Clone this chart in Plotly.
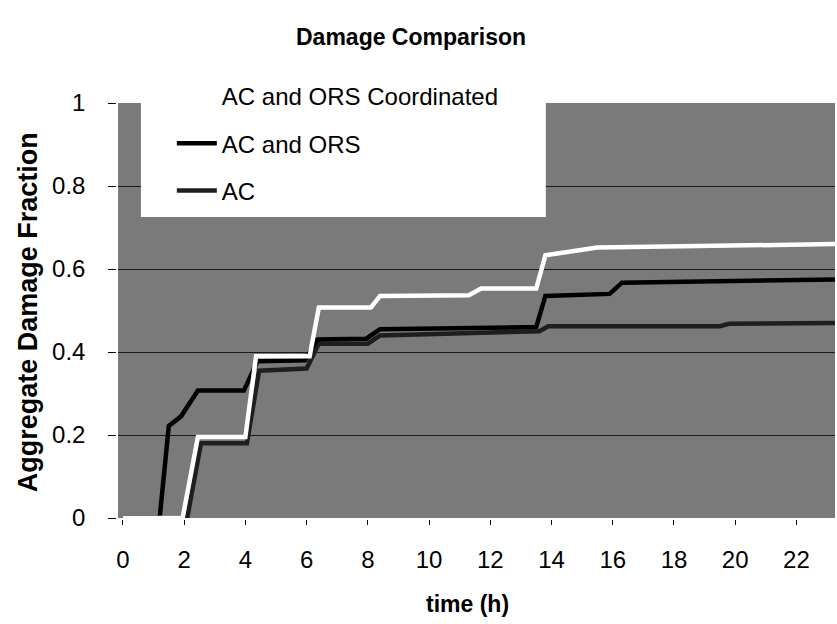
import plotly.graph_objects as go

# ---- data ----
t_coord = [0, 1.95, 2.45, 4.0, 4.35, 6.1, 6.4, 8.1, 8.4, 11.3, 11.7, 13.5, 13.8, 14.5, 15.5, 23.3]
v_coord = [0, 0, 0.195, 0.195, 0.39, 0.39, 0.507, 0.507, 0.535, 0.537, 0.553, 0.553, 0.633, 0.64, 0.652, 0.66]

t_acors = [0, 1.2, 1.5, 1.9, 2.45, 3.95, 4.4, 5.95, 6.35, 7.95, 8.4, 13.5, 13.8, 15.9, 16.3, 23.3]
v_acors = [0, 0, 0.222, 0.245, 0.307, 0.307, 0.378, 0.38, 0.43, 0.432, 0.455, 0.46, 0.535, 0.54, 0.567, 0.575]

t_ac = [0, 2.1, 2.55, 4.05, 4.45, 6.0, 6.4, 8.0, 8.4, 13.6, 13.9, 19.5, 19.8, 23.3]
v_ac = [0, 0, 0.18, 0.18, 0.355, 0.36, 0.42, 0.42, 0.44, 0.45, 0.462, 0.462, 0.468, 0.47]

series_names = ["AC and ORS Coordinated", "AC and ORS", "AC"]
x_ticks = [0, 2, 4, 6, 8, 10, 12, 14, 16, 18, 20, 22]
y_ticks = [0, 0.2, 0.4, 0.6, 0.8, 1]
y_tick_text = ["0", "0.2", "0.4", "0.6", "0.8", "1"]

FONT = "Liberation Sans, Arial, sans-serif"
W, H = 837, 624
L, R, T, B = 118, 0, 103, 106
PW, PH = W - L - R, H - T - B

fig = go.Figure()
fig.add_trace(go.Scatter(x=t_coord, y=v_coord, mode="lines", name=series_names[0],
                         line=dict(color="#ffffff", width=4.5), legendgroup="g1", zorder=3,
                         cliponaxis=False))
fig.add_trace(go.Scatter(x=t_acors, y=v_acors, mode="lines", name=series_names[1],
                         line=dict(color="#000000", width=4.5), legendgroup="g2", zorder=2,
                         cliponaxis=False))
fig.add_trace(go.Scatter(x=t_ac, y=v_ac, mode="lines", name=series_names[2],
                         line=dict(color="#1e1e1e", width=4.5), legendgroup="g3", zorder=1,
                         cliponaxis=False))

def px_x(p):
    return (p - L) / PW

def px_y(p):
    return (H - B - p) / PH

# white legend box area
fig.add_shape(type="rect", xref="paper", yref="paper",
              x0=px_x(141), x1=px_x(547), y0=px_y(217), y1=px_y(60),
              fillcolor="#ffffff", line=dict(width=0), layer="above")

fig.update_layout(
    width=W, height=H,
    margin=dict(l=L, r=R, t=T, b=B),
    paper_bgcolor="#ffffff",
    plot_bgcolor="#7a7a7a",
    font=dict(family=FONT, size=24, color="#000000"),
    showlegend=True,
    legend=dict(x=px_x(172), y=px_y(74), xanchor="left", yanchor="top",
                bgcolor="rgba(0,0,0,0)", borderwidth=0,
                font=dict(family=FONT, size=24, color="#000000"),
                traceorder="grouped", tracegroupgap=13, itemwidth=40),
    annotations=[
        dict(text="<b>Damage Comparison</b>", xref="paper", yref="paper",
             x=px_x(412), y=px_y(37), showarrow=False, xanchor="center", yanchor="middle",
             font=dict(family=FONT, size=23)),
        dict(text="<b>time (h)</b>", xref="paper", yref="paper",
             x=px_x(468), y=px_y(604), showarrow=False, xanchor="center", yanchor="middle",
             font=dict(family=FONT, size=23)),
        dict(text="<b>Aggregate Damage Fraction</b>", xref="paper", yref="paper",
             x=px_x(28), y=px_y(312), showarrow=False, xanchor="center", yanchor="middle",
             textangle=-90, font=dict(family=FONT, size=27)),
    ],
)

fig.update_xaxes(range=[-0.16, 23.26], tickvals=x_ticks, ticktext=[str(v) for v in x_ticks],
                 showgrid=False, zeroline=False, showline=True, linecolor="#000000", linewidth=1.5,
                 mirror=True, ticks="outside", ticklen=5, tickcolor="#000000",
                 ticklabelstandoff=14, tickfont=dict(family=FONT, size=24))
fig.update_yaxes(range=[0, 1], tickvals=y_ticks, ticktext=y_tick_text,
                 showgrid=True, gridcolor="#1a1a1a", gridwidth=1.2, zeroline=False,
                 showline=True, linecolor="#000000", linewidth=1.5, mirror=True,
                 ticks="outside", ticklen=8, tickcolor="#000000",
                 ticklabelstandoff=18, tickfont=dict(family=FONT, size=24))

fig.write_html("out.html", config={"displayModeBar": False},
               post_script="document.body.style.margin='0px';document.body.style.padding='0px';")
